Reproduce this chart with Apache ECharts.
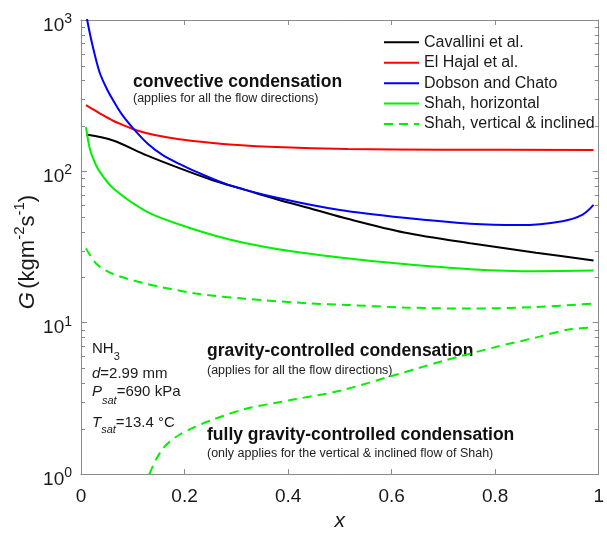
<!DOCTYPE html>
<html><head><meta charset="utf-8">
<script src="https://cdn.jsdelivr.net/npm/echarts@6/dist/echarts.min.js"></script>
<style>html,body{margin:0;padding:0;background:#fff}#c{width:607px;height:537px}</style>
</head><body><div id="c"></div>
<script>
const FONT = '"Liberation Sans", Arial, Helvetica, sans-serif';

// ---- data ----
const xTickLabels = ['0', '0.2', '0.4', '0.6', '0.8', '1'];
const yTickExponents = ['0', '1', '2', '3'];
const minorTickValues = [2,3,4,5,6,7,8,9,20,30,40,50,60,70,80,90,200,300,400,500,600,700,800,900];

const cavalliniX = [0.01, 0.062, 0.126, 0.19, 0.253, 0.317, 0.381, 0.445, 0.515, 0.624, 0.752, 0.879, 0.99];
const cavalliniG = [175, 160, 128, 105, 87.7, 75.5, 65, 56.7, 48.6, 39.5, 33.5, 29, 25.8];

const elHajalX = [0.0096, 0.025, 0.036, 0.062, 0.08, 0.107, 0.14, 0.19, 0.25, 0.317, 0.419, 0.515, 0.7, 0.99];
const elHajalG = [274, 255, 242, 216, 203, 187, 174.5, 163, 154.7, 148.3, 143, 140.3, 139, 138.5];

const dobsonX = [0.0096, 0.012, 0.024, 0.036, 0.05, 0.062, 0.08, 0.105, 0.13, 0.158, 0.19, 0.222, 0.285, 0.381, 0.5, 0.624, 0.752, 0.847, 0.93, 0.969, 0.99];
const dobsonG = [1200, 1000, 640, 450, 350, 295, 235, 185, 151, 128, 112, 99.5, 81.4, 66.6, 55.5, 49.3, 45.1, 44.2, 46.9, 51.8, 60];

const shahHorX = [0.0096, 0.017, 0.025, 0.036, 0.062, 0.126, 0.19, 0.285, 0.381, 0.5, 0.624, 0.752, 0.879, 0.99];
const shahHorG = [196, 141, 118, 99.6, 77.4, 54.5, 44.6, 35.6, 30.6, 27, 24.4, 22.6, 21.9, 22.1];

const shahVertUpperX = [0.0096, 0.03, 0.062, 0.126, 0.222, 0.317, 0.445, 0.515, 0.624, 0.752, 0.879, 0.99];
const shahVertUpperG = [31, 24.4, 21, 18.1, 15.6, 14.4, 13.4, 13.1, 12.6, 12.4, 12.7, 13.4];

const shahVertLowerX = [0.132, 0.145, 0.158, 0.17, 0.19, 0.22, 0.253, 0.317, 0.413, 0.5, 0.6, 0.7, 0.8, 0.88, 0.94, 0.99];
const shahVertLowerG = [1.0, 1.25, 1.47, 1.62, 1.82, 2.05, 2.28, 2.69, 3.12, 3.55, 4.45, 5.6, 6.9, 8.0, 9.0, 9.3];

const seriesNames = ['Cavallini et al.', 'El Hajal et al.', 'Dobson and Chato', 'Shah, horizontal', 'Shah, vertical & inclined'];
const seriesColors = ['#000000', '#ff0000', '#0000ff', '#00f000', '#00f000'];

function pairs(xs, ys) { return xs.map((x, i) => [x, ys[i]]); }

const chart = echarts.init(document.getElementById('c'), null, {renderer: 'canvas'});

const axisGrey = '#8a8a8a';
const labelColor = '#1a1a1a';

const lineSeries = (name, data, color, dashed) => ({
  type: 'line', name, data, symbol: 'none', showSymbol: false, smooth: 0.3,
  xAxisIndex: 0, yAxisIndex: 0,
  lineStyle: {color, width: 2, type: dashed ? [9, 6] : 'solid'},
  itemStyle: {color}, z: 3
});

const txt = (size, extra) => Object.assign({fontFamily: FONT, fontSize: size, fill: labelColor, verticalAlign: 'top'}, extra || {});

const option = {
  animation: false,
  textStyle: {fontFamily: FONT},
  grid: {left: 81, right: 4, top: 20, bottom: 58, containLabel: false},
  legend: {
    orient: 'vertical', left: 383, top: 34.2, padding: 0,
    itemWidth: 35, itemHeight: 20.4, itemGap: 4.1,
    itemStyle: {opacity: 0, color: 'transparent', borderWidth: 0},
    data: seriesNames,
    textStyle: {fontFamily: FONT, fontSize: 16, color: labelColor}
  },
  xAxis: [
    {type: 'value', min: 0, max: 1, interval: 0.2, position: 'bottom',
     name: 'x', nameLocation: 'middle', nameGap: 36,
     nameTextStyle: {fontFamily: FONT, fontSize: 21, fontStyle: 'italic', color: labelColor},
     axisLine: {show: true, onZero: false, lineStyle: {color: axisGrey, width: 1}},
     axisTick: {show: true, inside: true, length: 5, lineStyle: {color: axisGrey}},
     axisLabel: {fontFamily: FONT, fontSize: 19, color: labelColor, margin: 13,
       formatter: v => xTickLabels[Math.round(v / 0.2)]},
     splitLine: {show: false}},
    {type: 'value', min: 0, max: 1, interval: 0.2, position: 'top',
     axisLine: {show: true, onZero: false, lineStyle: {color: axisGrey, width: 1}},
     axisTick: {show: true, inside: true, length: 5, lineStyle: {color: axisGrey}},
     axisLabel: {show: false}, splitLine: {show: false}}
  ],
  yAxis: [
    {type: 'log', logBase: 10, min: 1, max: 1000, position: 'left',
     axisLine: {show: true, onZero: false, lineStyle: {color: axisGrey, width: 1}},
     axisTick: {show: true, inside: true, length: 6, lineStyle: {color: axisGrey}},
     axisLabel: {margin: 9, color: labelColor,
       formatter: v => '{b|10}{s|' + yTickExponents[Math.round(Math.log10(v))] + '}',
       rich: {
         b: {fontFamily: FONT, fontSize: 19, color: labelColor, lineHeight: 22, verticalAlign: 'top', padding: [7, 0, 0, 0]},
         s: {fontFamily: FONT, fontSize: 14, color: labelColor, lineHeight: 14, verticalAlign: 'top', padding: [3, 0, 0, 0]}
       }},
     splitLine: {show: false}},
    {type: 'log', logBase: 10, min: 1, max: 1000, position: 'right',
     axisLine: {show: true, onZero: false, lineStyle: {color: axisGrey, width: 1}},
     axisTick: {show: true, inside: true, length: 6, lineStyle: {color: axisGrey}},
     axisLabel: {show: false}, splitLine: {show: false}}
  ],
  series: [
    {type: 'custom', name: 'minorTicks', xAxisIndex: 0, yAxisIndex: 0, silent: true, clip: false, z: 1,
     data: minorTickValues.map(v => [0, v]),
     renderItem: (params, api) => {
       const cs = params.coordSys;
       const y = Math.round(api.coord([0, api.value(1)])[1]) + 0.5;
       const st = {stroke: axisGrey, lineWidth: 1};
       return {type: 'group', children: [
         {type: 'line', shape: {x1: cs.x, y1: y, x2: cs.x + 4, y2: y}, style: st},
         {type: 'line', shape: {x1: cs.x + cs.width - 4, y1: y, x2: cs.x + cs.width, y2: y}, style: st}
       ]};
     }},
    lineSeries(seriesNames[0], pairs(cavalliniX, cavalliniG), seriesColors[0], false),
    lineSeries(seriesNames[1], pairs(elHajalX, elHajalG), seriesColors[1], false),
    lineSeries(seriesNames[2], pairs(dobsonX, dobsonG), seriesColors[2], false),
    lineSeries(seriesNames[3], pairs(shahHorX, shahHorG), seriesColors[3], false),
    lineSeries(seriesNames[4], pairs(shahVertUpperX, shahVertUpperG), seriesColors[4], true),
    lineSeries(seriesNames[4], pairs(shahVertLowerX, shahVertLowerG), seriesColors[4], true)
  ],
  graphic: [
    {type: 'text', x: 22, y: 252, rotation: Math.PI / 2,
     style: {text: '{i|G} {m|(kgm}{s|-2}{m|s}{s|-1}{m|)}', align: 'center', verticalAlign: 'middle',
       rich: {
         i: txt(22, {fontStyle: 'italic', lineHeight: 24, padding: [7, 0, 0, 0]}),
         m: txt(22, {lineHeight: 24, padding: [7, 0, 0, 0]}),
         s: txt(15, {lineHeight: 15, padding: [2, 0, 0, 0]})
       }}},
    {type: 'text', x: 133, y: 82, style: {text: 'convective condensation', fontFamily: FONT, fontSize: 17.5, fontWeight: 'bold', fill: '#111', verticalAlign: 'middle'}},
    {type: 'text', x: 133, y: 98.5, style: {text: '(applies for all the flow directions)', fontFamily: FONT, fontSize: 12.5, fill: '#222', verticalAlign: 'middle'}},
    {type: 'text', x: 207, y: 351, style: {text: 'gravity-controlled condensation', fontFamily: FONT, fontSize: 17.5, fontWeight: 'bold', fill: '#111', verticalAlign: 'middle'}},
    {type: 'text', x: 207, y: 371, style: {text: '(applies for all the flow directions)', fontFamily: FONT, fontSize: 12.5, fill: '#222', verticalAlign: 'middle'}},
    {type: 'text', x: 207, y: 435, style: {text: 'fully gravity-controlled condensation', fontFamily: FONT, fontSize: 17.5, fontWeight: 'bold', fill: '#111', verticalAlign: 'middle'}},
    {type: 'text', x: 207, y: 453.5, style: {text: '(only applies for the vertical & inclined flow of Shah)', fontFamily: FONT, fontSize: 12.5, fill: '#222', verticalAlign: 'middle'}},
    {type: 'text', x: 92, y: 341.5, style: {text: '{m|NH}{s|3}', verticalAlign: 'top',
       rich: {m: txt(15, {lineHeight: 16}), s: txt(11, {lineHeight: 12, padding: [10, 0, 0, 0]})}}},
    {type: 'text', x: 92, y: 366, style: {text: '{i|d}{m|=2.99 mm}', verticalAlign: 'top',
       rich: {i: txt(15, {fontStyle: 'italic', lineHeight: 16}), m: txt(15, {lineHeight: 16})}}},
    {type: 'text', x: 92, y: 384.7, style: {text: '{i|P}{s|sat}{m|=690 kPa}', verticalAlign: 'top',
       rich: {i: txt(15, {fontStyle: 'italic', lineHeight: 16}), m: txt(15, {lineHeight: 16}),
              s: txt(11, {fontStyle: 'italic', lineHeight: 12, padding: [11, 0, 0, 0]})}}},
    {type: 'text', x: 92, y: 415, style: {text: '{i|T}{s|sat}{m|=13.4 °C}', verticalAlign: 'top',
       rich: {i: txt(15, {fontStyle: 'italic', lineHeight: 16}), m: txt(15, {lineHeight: 16}),
              s: txt(11, {fontStyle: 'italic', lineHeight: 12, padding: [9, 0, 0, 0]})}}}
  ]
};
chart.setOption(option);
</script>
</body></html>
